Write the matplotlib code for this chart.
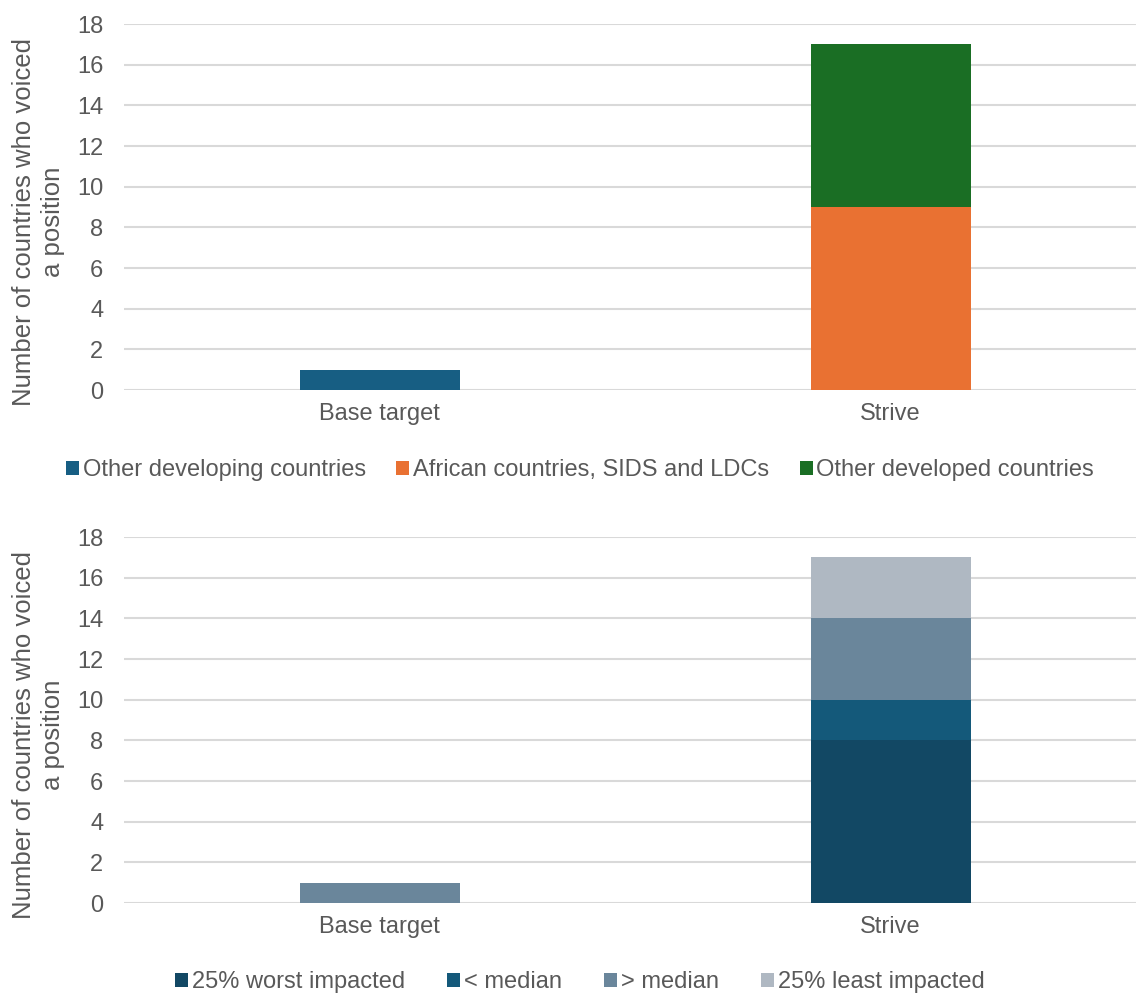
import numpy as np
import matplotlib.pyplot as plt

plt.rcParams['font.family'] = ['Liberation Sans', 'DejaVu Sans']

categories = ['Base target', 'Strive']

# top chart: by country group
group_names = ['Other developing countries', 'African countries, SIDS and LDCs',
               'Other developed countries']
group_values = [[1, 0], [0, 9], [0, 8]]
group_colors = ['#175E83', '#E97132', '#1A6E24']

# bottom chart: by impact
impact_names = ['25% worst impacted', '< median', '> median', '25% least impacted']
impact_values = [[0, 8], [0, 2], [1, 4], [0, 3]]
impact_colors = ['#124864', '#14597A', '#6A869B', '#AFB8C2']

grey = '#595959'

fig = plt.figure(figsize=(11.36, 9.94), dpi=100)
ax1 = fig.add_axes([124 / 1136, 0.6076, 1 - 124 / 1136, 0.3682])
ax2 = fig.add_axes([124 / 1136, 0.0915, 1 - 124 / 1136, 0.3682])


def stacked(ax, names, values, colors):
    x = np.arange(len(categories))
    bottom = np.zeros(len(categories))
    for name, vals, c in zip(names, values, colors):
        ax.bar(x, vals, 0.313, bottom=bottom, color=c, label=name, zorder=3)
        bottom += np.array(vals)
    ax.set_xlim(-0.5, 1.48)
    ax.set_ylim(0, 18)
    ax.set_yticks(range(0, 19, 2))
    ax.set_xticks(x)
    ax.set_xticklabels(categories)
    ax.grid(axis='y', color='#D9D9D9', linewidth=1.5, zorder=0)
    for s in ax.spines.values():
        s.set_visible(False)
    ax.tick_params(length=0, labelsize=17, labelcolor=grey)
    ax.tick_params(axis='x', pad=9)
    ax.tick_params(axis='y', pad=15)
    ax.set_ylabel('Number of countries who voiced\na position', fontsize=18.5,
                  color=grey, linespacing=1.3)
    ax.yaxis.set_label_coords(-0.058, 0.46)


stacked(ax1, group_names, group_values, group_colors)
stacked(ax2, impact_names, impact_values, impact_colors)

ax1.legend(loc='center', bbox_to_anchor=(580 / 1136, 1 - 470 / 994),
           bbox_transform=fig.transFigure, ncol=3, frameon=False,
           fontsize=17, labelcolor=grey, handlelength=0.55, handleheight=0.55,
           handletextpad=0.15, columnspacing=1.3)
ax2.legend(loc='center', bbox_to_anchor=(580 / 1136, 1 - 982 / 994),
           bbox_transform=fig.transFigure, ncol=4, frameon=False,
           fontsize=17, labelcolor=grey, handlelength=0.55, handleheight=0.55,
           handletextpad=0.15, columnspacing=1.8)

fig.savefig('out.png', dpi=100)
